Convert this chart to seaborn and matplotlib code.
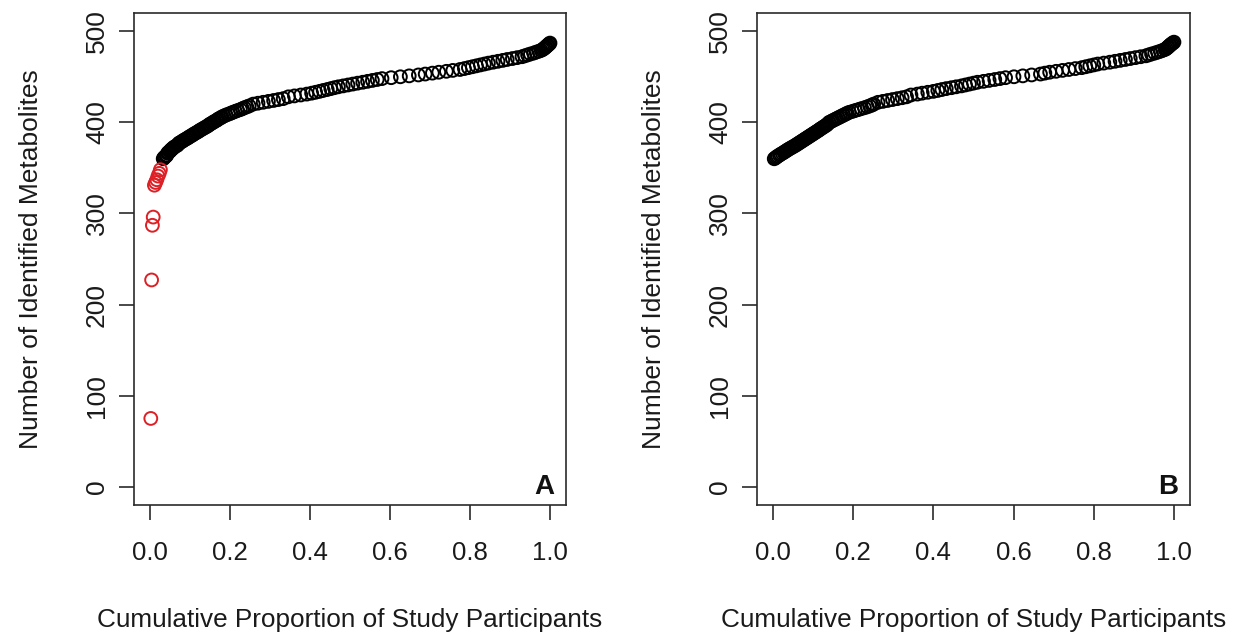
import matplotlib
matplotlib.use("Agg")
import matplotlib.pyplot as plt
import seaborn as sns
import pandas as pd

# Panel A: participants flagged as outliers (red)
a_red_prop = [0.002, 0.004, 0.006, 0.008, 0.011, 0.014, 0.017, 0.020, 0.023, 0.026]
a_red_count = [75, 227, 287, 296, 331, 334, 337, 341, 344, 348]

# Panel A: remaining participants (black)
a_prop = [0.033, 0.035, 0.037, 0.040, 0.042, 0.044, 0.046, 0.049, 0.051, 0.053,
          0.056, 0.058, 0.061, 0.065, 0.069, 0.072, 0.076, 0.080, 0.083, 0.087,
          0.091, 0.095, 0.098, 0.102, 0.106, 0.109, 0.113, 0.117, 0.121, 0.124,
          0.128, 0.132, 0.136, 0.140, 0.144, 0.147, 0.150, 0.154, 0.158, 0.161,
          0.166, 0.169, 0.172, 0.177, 0.180, 0.185, 0.190, 0.196, 0.202, 0.207,
          0.213, 0.219, 0.226, 0.231, 0.236, 0.242, 0.248, 0.258, 0.270, 0.283,
          0.296, 0.309, 0.321, 0.333, 0.346, 0.361, 0.377, 0.392, 0.404, 0.414,
          0.424, 0.433, 0.443, 0.452, 0.461, 0.471, 0.483, 0.495, 0.507, 0.519,
          0.532, 0.544, 0.556, 0.568, 0.580, 0.603, 0.626, 0.648, 0.671, 0.688,
          0.706, 0.722, 0.741, 0.757, 0.775, 0.786, 0.796, 0.806, 0.816, 0.826,
          0.836, 0.846, 0.858, 0.870, 0.882, 0.893, 0.906, 0.918, 0.930, 0.937,
          0.944, 0.951, 0.959, 0.965, 0.972, 0.978, 0.982, 0.985, 0.988, 0.990,
          0.993, 0.995, 0.998, 1.000]
a_count = [360, 361, 362, 363, 364, 366, 367, 368, 369, 370,
           371, 372, 373, 374, 375, 377, 378, 379, 380, 381,
           382, 383, 384, 385, 386, 387, 388, 389, 390, 391,
           392, 393, 394, 395, 396, 397, 398, 399, 400, 401,
           402, 403, 404, 405, 406, 407, 408, 409, 410, 411,
           412, 413, 414, 415, 416, 417, 418, 420, 421, 422,
           423, 424, 425, 426, 428, 429, 430, 431, 432, 433,
           434, 435, 436, 437, 438, 439, 440, 441, 442, 443,
           444, 445, 446, 447, 448, 449, 450, 451, 452, 453,
           454, 455, 456, 457, 458, 459, 460, 461, 462, 463,
           464, 465, 466, 467, 468, 469, 470, 471, 472, 473,
           474, 475, 476, 477, 478, 479, 480, 481, 482, 483,
           484, 485, 486, 487]

# Panel B: after removing outliers
b_prop = [0.003, 0.006, 0.009, 0.012, 0.016, 0.019, 0.023, 0.027, 0.030, 0.034,
          0.037, 0.041, 0.045, 0.049, 0.053, 0.057, 0.060, 0.064, 0.067, 0.071,
          0.074, 0.078, 0.081, 0.085, 0.088, 0.092, 0.095, 0.099, 0.102, 0.106,
          0.109, 0.113, 0.116, 0.119, 0.123, 0.126, 0.130, 0.133, 0.136, 0.140,
          0.145, 0.149, 0.154, 0.158, 0.163, 0.167, 0.172, 0.176, 0.181, 0.185,
          0.190, 0.198, 0.205, 0.213, 0.220, 0.228, 0.235, 0.241, 0.247, 0.251,
          0.262, 0.274, 0.286, 0.298, 0.310, 0.322, 0.333, 0.344, 0.360, 0.372,
          0.386, 0.400, 0.411, 0.421, 0.432, 0.445, 0.457, 0.470, 0.480, 0.490,
          0.500, 0.510, 0.525, 0.539, 0.553, 0.566, 0.580, 0.601, 0.623, 0.645,
          0.667, 0.678, 0.690, 0.706, 0.722, 0.738, 0.754, 0.770, 0.780, 0.790,
          0.800, 0.810, 0.825, 0.840, 0.853, 0.866, 0.879, 0.891, 0.904, 0.917,
          0.930, 0.937, 0.944, 0.952, 0.959, 0.966, 0.972, 0.978, 0.981, 0.984,
          0.986, 0.989, 0.991, 0.994, 0.997, 1.000]
b_count = [360, 361, 362, 363, 364, 365, 366, 367, 368, 369,
           370, 371, 372, 373, 374, 375, 376, 377, 378, 379,
           380, 381, 382, 383, 384, 385, 386, 387, 388, 389,
           390, 391, 392, 393, 394, 395, 396, 397, 398, 400,
           401, 402, 403, 404, 405, 406, 407, 408, 409, 410,
           411, 412, 413, 414, 415, 416, 417, 418, 419, 420,
           422, 423, 424, 425, 426, 427, 428, 430, 431, 432,
           433, 434, 435, 436, 437, 438, 439, 440, 441, 442,
           443, 444, 445, 446, 447, 448, 449, 450, 451, 452,
           453, 454, 455, 456, 457, 458, 459, 460, 461, 462,
           463, 464, 465, 466, 467, 468, 469, 470, 471, 472,
           473, 474, 475, 476, 477, 478, 479, 480, 481, 482,
           483, 484, 485, 486, 487, 488]

x_ticks = [0.0, 0.2, 0.4, 0.6, 0.8, 1.0]
x_tick_labels = ["0.0", "0.2", "0.4", "0.6", "0.8", "1.0"]
y_ticks = [0, 100, 200, 300, 400, 500]
panel_labels = ["A", "B"]

sns.set_theme(style="white")
plt.rcParams["font.family"] = ["Liberation Sans", "DejaVu Sans"]

text_colour = "#1a1a1a"
red = "#dd2026"
W, H = 1233, 633


def style_panel(ax, label):
    ax.set_xlim(-0.04, 1.04)
    ax.set_ylim(-20, 520)
    ax.set_xticks(x_ticks)
    ax.set_xticklabels(x_tick_labels)
    ax.set_yticks(y_ticks)
    ax.set_yticklabels([str(v) for v in y_ticks], rotation=90, va="center")
    ax.tick_params(axis="both", which="major", bottom=True, left=True,
                   direction="out", length=11, width=1.2, colors="#2a2a2a",
                   labelcolor=text_colour)
    ax.tick_params(axis="x", pad=15, labelsize=18.5)
    ax.tick_params(axis="y", pad=7, labelsize=19)
    for s in ax.spines.values():
        s.set_visible(True)
        s.set_color("#2a2a2a")
        s.set_linewidth(1.2)
    ax.set_xlabel("Cumulative Proportion of Study Participants", fontsize=18.8,
                  color=text_colour, labelpad=31)
    ax.set_ylabel("Number of Identified Metabolites", fontsize=19,
                  color=text_colour, labelpad=30)
    ax.text(0.949, 0.037, label, transform=ax.transAxes, ha="center", va="center",
            fontsize=20, fontweight="bold", color="#111111")


fig = plt.figure(figsize=(W / 100, H / 100), dpi=100)
ax_a = fig.add_axes([134 / W, (H - 505) / H, (566 - 134) / W, (505 - 13) / H])
ax_b = fig.add_axes([757 / W, (H - 505) / H, (1190 - 757) / W, (505 - 13) / H])

df_a = pd.DataFrame({"prop": a_prop, "count": a_count})
df_a_red = pd.DataFrame({"prop": a_red_prop, "count": a_red_count})
df_b = pd.DataFrame({"prop": b_prop, "count": b_count})

marker_kw = dict(marker="o", s=85, linewidth=1.4, facecolors="none", legend=False)
sns.scatterplot(data=df_a, x="prop", y="count", ax=ax_a, edgecolor="black", **marker_kw)
sns.scatterplot(data=df_a_red, x="prop", y="count", ax=ax_a, edgecolor=red, **marker_kw)
sns.scatterplot(data=df_b, x="prop", y="count", ax=ax_b, edgecolor="black", **marker_kw)

style_panel(ax_a, panel_labels[0])
style_panel(ax_b, panel_labels[1])

fig.savefig("out.png", dpi=100, facecolor="white")
